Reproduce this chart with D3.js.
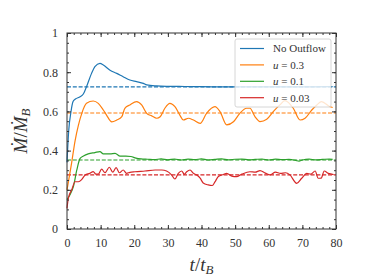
<!DOCTYPE html>
<meta charset="utf-8">
<style>
body { margin: 0; background: #fff; }
svg text { font-family: "Liberation Serif", "DejaVu Serif", serif; fill: #333; }
.tick line { stroke: #333; }
</style>
<svg class="chart" width="374" height="280"></svg>
<script src="https://cdn.jsdelivr.net/npm/d3@7"></script>
<script>

// values
var names = ["No Outflow", "u = 0.3", "u = 0.1", "u = 0.03"];
var colors = ["#1f77b4", "#ff7f0e", "#2ca02c", "#d62728"];
var means = [0.725, 0.592, 0.352, 0.276];

var tBlue = [0,0.5,1.2,1.8,2.5,3.9,4.9,5.8,7.3,8.3,9.8,10.8,12.8,14.8,16.7,18.7,20.7,22.7,23.7,26.7,30,35,40,50,60,70,79];
var vBlue = [0.34,0.5,0.6,0.65,0.663,0.675,0.69,0.726,0.794,0.828,0.845,0.837,0.81,0.794,0.777,0.76,0.752,0.743,0.735,0.73,0.728,0.727,0.726,0.725,0.725,0.725,0.726];

var tOrange = [0,1.4,2.4,3.4,4.4,5.8,7.8,9.3,10.8,11.8,13.3,14.8,16.3,17.2,18.7,20.7,22.2,23.7,25.2,26.7,27.7,29.1,30.6,32.1,33.6,34.6,36.1,37.6,39.6,41.5,44,45.5,47.5,49.5,51.4,53.4,54.4,55.9,57.4,59.4,61.4,63.3,64.8,67.3,69.3,70.8,72.8,74.3,75.7,78.2,79];
var vOrange = [0.2,0.34,0.45,0.53,0.59,0.641,0.653,0.641,0.607,0.58,0.547,0.556,0.573,0.616,0.633,0.65,0.633,0.59,0.577,0.565,0.573,0.616,0.641,0.624,0.58,0.556,0.565,0.556,0.539,0.59,0.624,0.599,0.531,0.547,0.59,0.616,0.616,0.573,0.548,0.56,0.6,0.633,0.655,0.616,0.556,0.565,0.607,0.633,0.65,0.624,0.62];

var tGreen = [0,0.9,1.9,2.9,3.9,4.9,6.3,8.3,9.8,10.8,12.8,14.3,15.8,17.5,19,20.5,22,24,26,28,30,32,34,36,38,40,42,44,46,48,50,52,54,56,58,60,62,64,66,68,69,70,72,74,76,78,79];
var vGreen = [0.15,0.175,0.216,0.3,0.36,0.372,0.383,0.39,0.395,0.383,0.383,0.386,0.372,0.372,0.37,0.362,0.358,0.356,0.354,0.358,0.353,0.357,0.352,0.356,0.354,0.358,0.352,0.355,0.358,0.353,0.356,0.357,0.353,0.355,0.357,0.352,0.356,0.354,0.355,0.35,0.346,0.352,0.356,0.353,0.355,0.357,0.355];

var tRed = [0,0.4,1.4,2.4,3.4,4.4,5.4,6.8,7.8,8.6,9.3,10.3,11.3,12.6,13.6,14.6,15.6,16.7,17.7,18.7,20.2,23.2,26.2,28.2,29.6,31.1,32.1,33.1,34.1,34.9,35.6,36.6,37.6,38.6,39.6,40.5,42,43.2,44,45,46.5,47.5,49,50.4,52,54.4,56,57.4,59,60.4,62,63.5,65,66.3,68.3,69.8,71.3,72.5,73.8,74.7,75.6,76.5,77.7,78.7,79.3];
var vRed = [0.105,0.157,0.2,0.241,0.241,0.253,0.276,0.284,0.293,0.28,0.28,0.305,0.287,0.315,0.29,0.313,0.287,0.301,0.284,0.289,0.292,0.296,0.301,0.301,0.296,0.276,0.255,0.284,0.296,0.279,0.292,0.301,0.284,0.275,0.259,0.235,0.225,0.222,0.24,0.268,0.278,0.284,0.27,0.267,0.28,0.292,0.29,0.298,0.285,0.276,0.29,0.284,0.287,0.276,0.233,0.259,0.284,0.28,0.296,0.259,0.26,0.296,0.284,0.28,0.278];

var xTicks = [0,10,20,30,40,50,60,70,80];
var yTicks = [0,0.2,0.4,0.6,0.8,1];

var series = [[tBlue, vBlue], [tOrange, vOrange], [tGreen, vGreen], [tRed, vRed]];

var margin = {top: 33, right: 38, bottom: 51, left: 67},
    width = 374 - margin.left - margin.right,
    height = 280 - margin.top - margin.bottom;

var svg = d3.select(".chart");
var chart = svg.append("g")
	.attr("transform", "translate(" + margin.left + "," + margin.top + ")");

var x = d3.scaleLinear().domain([0, 80]).range([0, width]);
var y = d3.scaleLinear().domain([0, 1]).range([height, 0]);

var line = d3.line()
	.x(function(d) { return x(d[0]); })
	.y(function(d) { return y(d[1]); })
	.curve(d3.curveMonotoneX);

// dashed means
chart.selectAll(".mean")
	.data(means)
  .enter().append("line")
	.attr("class", "mean")
	.attr("x1", 0).attr("x2", width)
	.attr("y1", function(d) { return y(d); })
	.attr("y2", function(d) { return y(d); })
	.attr("stroke", function(d, i) { return colors[i]; })
	.attr("stroke-width", 1.1)
	.attr("stroke-dasharray", "4,1.8");

chart.selectAll(".series")
	.data(series)
  .enter().append("path")
	.attr("class", "series")
	.attr("d", function(s) { return line(d3.zip(s[0], s[1])); })
	.attr("fill", "none")
	.attr("stroke", function(d, i) { return colors[i]; })
	.attr("stroke-width", 1.2);

// axes, ticks pointing in, on all sides
var minorX = d3.range(0, 81, 2), minorY = d3.range(0, 1.001, 0.05);

function tickAxis(axis, scale, major, minor, tr, labels) {
	var gMin = chart.append("g").attr("transform", tr)
		.call(axis(scale).tickValues(minor).tickSize(-2).tickFormat(""));
	gMin.select(".domain").remove();
	var g = chart.append("g").attr("transform", tr)
		.call(axis(scale).tickValues(major).tickSize(-4).tickPadding(9)
			.tickFormat(labels ? d3.format("~g") : ""));
	g.select(".domain").remove();
	g.attr("font-family", null);
	g.selectAll("text").attr("font-size", 12).attr("fill", "#444")
		.style("font-family", "'Liberation Serif', serif");
	return g;
}
tickAxis(d3.axisBottom, x, xTicks, minorX, "translate(0," + height + ")", true);
tickAxis(d3.axisTop, x, xTicks, minorX, "translate(0,0)", false);
tickAxis(d3.axisLeft, y, yTicks, minorY, "translate(0,0)", true);
tickAxis(d3.axisRight, y, yTicks, minorY, "translate(" + width + ",0)", false);

chart.append("rect")
	.attr("width", width).attr("height", height)
	.attr("fill", "none").attr("stroke", "#333").attr("stroke-width", 1);

// legend
var leg = chart.append("g").attr("transform", "translate(" + (width - 101) + ",6)");
leg.append("rect")
	.attr("width", 96).attr("height", 68).attr("rx", 2)
	.attr("fill", "#fff").attr("fill-opacity", 0.8)
	.attr("stroke", "#ccc").attr("stroke-width", 0.8);
var items = leg.selectAll(".item")
	.data(names)
  .enter().append("g")
	.attr("transform", function(d, i) { return "translate(0," + (9.5 + i * 16.4) + ")"; });
items.append("line")
	.attr("x1", 5).attr("x2", 29)
	.attr("stroke", function(d, i) { return colors[i]; })
	.attr("stroke-width", 1.2);
var lt = items.append("text")
	.attr("x", 38).attr("y", 3.8)
	.attr("font-size", 11);
lt.each(function(d, i) {
	var t = d3.select(this);
	if (i === 0) { t.text(d); return; }
	t.append("tspan").attr("font-style", "italic").text("u");
	t.append("tspan").text(d.slice(1));
});

// axis labels
var xl = svg.append("text")
	.attr("x", margin.left + width / 2).attr("y", 271)
	.attr("text-anchor", "middle").attr("font-size", 19).attr("fill", "#222");
xl.append("tspan").attr("font-style", "italic").text("t");
xl.append("tspan").text("/");
xl.append("tspan").attr("font-style", "italic").text("t");
xl.append("tspan").attr("font-style", "italic").attr("font-size", 13).attr("dy", 3).text("B");

var yl = svg.append("text")
	.attr("transform", "translate(27," + (margin.top + height / 2) + ") rotate(-90)")
	.attr("text-anchor", "middle").attr("font-size", 19).attr("fill", "#222");
yl.append("tspan").attr("font-style", "italic").text("\u1E40");
yl.append("tspan").text("/");
yl.append("tspan").attr("font-style", "italic").text("\u1E40");
yl.append("tspan").attr("font-style", "italic").attr("font-size", 13).attr("dy", 3).text("B");

</script>
